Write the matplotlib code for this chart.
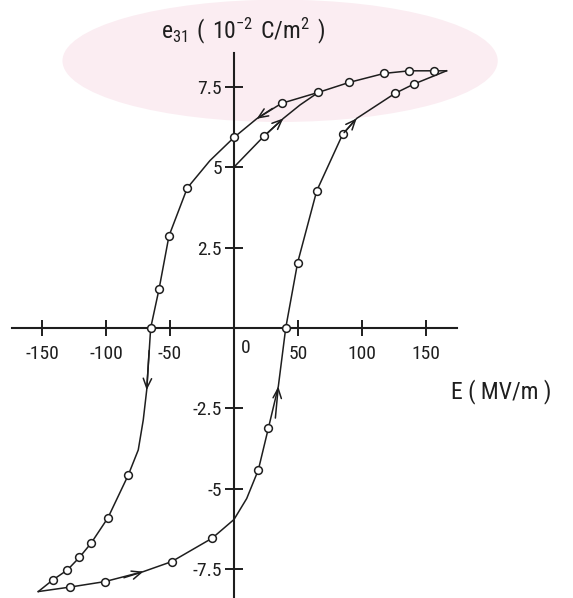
import matplotlib
matplotlib.use('Agg')
import matplotlib.pyplot as plt
from matplotlib import font_manager
from matplotlib.patches import Ellipse

# descending branch (upper), open-circle points
E_dn = [156, 137, 117.4, 90, 65.9, 37.2, 0, -36.5, -50.8, -58.6, -65.1,
        -82.6, -98.5, -111.7, -120.8, -130.2, -141.6]
e_dn = [7.99, 7.99, 7.91, 7.63, 7.32, 6.98, 5.92, 4.35, 2.86, 1.2, 0,
        -4.57, -5.9, -6.69, -7.13, -7.52, -7.83]

# ascending branch (lower), open-circle points
E_up = [-128, -100.8, -48.7, -17, 19, 26.8, 40.4, 49.7, 64.6, 84.9, 125.8, 140.6]
e_up = [-8.05, -7.88, -7.26, -6.53, -4.41, -3.12, 0, 2.03, 4.26, 6.02, 7.29, 7.58]

# loop tips (where the two branches meet)
tip_hi = (166, 7.99)
tip_lo = (-152.9, -8.19)

# extra points (no symbol)
dn_extra = [(17.7, 6.5), (-18.8, 5.2), (-68.2, -1.93), (-70.9, -2.86), (-74.8, -3.79)]
up_extra = [(-70.8, -7.57), (0, -5.95), (9.9, -5.3), (34.6, -1.82), (95.8, 6.51)]

# initial (virgin) curve from the remanent point
E_virgin = [0, 23.4, 38.5, 51.6, 65.9]
e_virgin = [5.0, 5.96, 6.51, 6.93, 7.32]
virgin_marks = [1]

# direction arrows: (head, tail)
arrows = [((17.7, 6.5), (30, 6.82)),
          ((38.5, 6.51), (26, 6.05)),
          ((95.8, 6.51), (86, 6.07)),
          ((-68.2, -1.93), (-66.3, -0.7)),
          ((34.6, -1.82), (32.3, -2.8)),
          ((-70.8, -7.57), (-86, -7.76))]

x_ticks = [-150, -100, -50, 50, 100, 150]
y_ticks = [-7.5, -5, -2.5, 2.5, 5, 7.5]
y_tick_labels = ['-7.5', '-5', '-2.5', '2.5', '5', '7.5']


def pick_font():
    names = {f.name for f in font_manager.fontManager.ttflist}
    for n in ['Liberation Sans Narrow', 'Roboto Condensed', 'DejaVu Sans Condensed']:
        if n in names:
            return n
    return 'DejaVu Sans'


def main():
    fam = pick_font()
    plt.rcParams['font.family'] = [fam, 'DejaVu Sans']
    ink = '#1e1e1e'

    fig = plt.figure(figsize=(5.73, 5.98), dpi=100)
    ax = fig.add_axes([0, 0, 1, 1])
    ax.set_xlim(-182.8, 264.8)
    ax.set_ylim(-8.39, 10.19)

    # faint library stamp behind the plot
    ax.add_patch(Ellipse((36, 8.3), 340, 3.8, color='#fbedf2', zorder=0, lw=0))

    # descending branch, ordered along the curve
    dn = sorted(list(zip(E_dn, e_dn)) + dn_extra + [tip_hi, tip_lo],
                key=lambda p: -p[0])
    dn = sorted(dn, key=lambda p: -p[1])
    ax.plot([p[0] for p in dn], [p[1] for p in dn], color=ink, lw=1.1, zorder=2)

    up = sorted(list(zip(E_up, e_up)) + up_extra + [tip_hi, tip_lo],
                key=lambda p: p[1])
    ax.plot([p[0] for p in up], [p[1] for p in up], color=ink, lw=1.1, zorder=2)

    ax.plot(E_virgin, e_virgin, color=ink, lw=1.1, zorder=2)

    mk = dict(linestyle='none', marker='o', ms=5.6, mfc='white', mec=ink,
              mew=1.1, zorder=3)
    ax.plot(E_dn, e_dn, **mk)
    ax.plot(E_up, e_up, **mk)
    ax.plot([E_virgin[i] for i in virgin_marks], [e_virgin[i] for i in virgin_marks], **mk)

    for head, tail in arrows:
        ax.annotate('', xy=head, xytext=tail,
                    arrowprops=dict(arrowstyle='->,head_length=0.7,head_width=0.3',
                                    color=ink, lw=1.1, shrinkA=0, shrinkB=0),
                    zorder=4)

    # axes crossing at the origin
    for s in ['top', 'right']:
        ax.spines[s].set_visible(False)
    ax.spines['left'].set_position(('data', 0))
    ax.spines['bottom'].set_position(('data', 0))
    ax.spines['left'].set_bounds(-8.39, 8.54)
    ax.spines['bottom'].set_bounds(-173.4, 174.2)
    for s in ['left', 'bottom']:
        ax.spines[s].set_linewidth(1.5)
        ax.spines[s].set_color(ink)
        ax.spines[s].set_zorder(1)

    ax.set_xticks(x_ticks)
    ax.set_xticklabels([str(v) for v in x_ticks])
    ax.set_yticks(y_ticks)
    ax.set_yticklabels(y_tick_labels)
    ax.tick_params(axis='x', direction='inout', length=11.5, width=1.4,
                   pad=6.5, labelsize=14, colors=ink)
    ax.tick_params(axis='y', direction='inout', length=13, width=1.4,
                   pad=2.2, labelsize=14, colors=ink)
    ax.patch.set_visible(False)

    ax.text(9.4, -0.62, '0', ha='center', va='center', fontsize=14, color=ink)
    ax.text(-57.2, 9.0, r'$\mathregular{e_{31}\ (\ 10^{-2}\ C/m^{2}\ )}$',
            ha='left', va='baseline', fontsize=17, color=ink)
    ax.text(169.5, -2.2, 'E ( MV/m )', ha='left', va='baseline',
            fontsize=17, color=ink)

    fig.savefig('out.png', dpi=100, facecolor='white')
    plt.close(fig)


if __name__ == '__main__':
    main()
